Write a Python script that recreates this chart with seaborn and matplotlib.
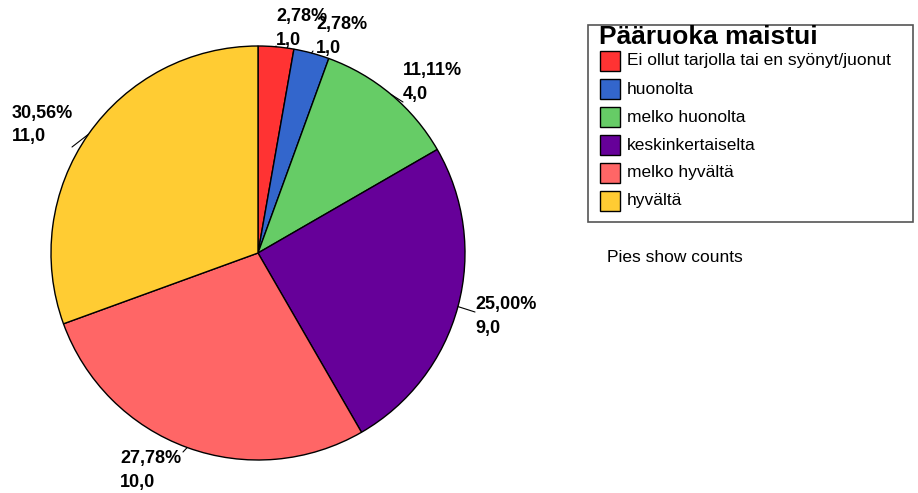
import math
import matplotlib
matplotlib.use("Agg")
import matplotlib.pyplot as plt
from matplotlib.patches import Rectangle
from matplotlib.lines import Line2D
import seaborn as sns

# Data
categories = [
    "Ei ollut tarjolla tai en syönyt/juonut",
    "huonolta",
    "melko huonolta",
    "keskinkertaiselta",
    "melko hyvältä",
    "hyvältä",
]
counts = [1, 1, 4, 9, 10, 11]
colors = ["#FF3333", "#3366CC", "#66CC66", "#660099", "#FF6666", "#FFCC33"]
title = "Pääruoka maistui"
note = "Pies show counts"

sns.set_theme(style="white")
plt.rcParams["font.family"] = ["Liberation Sans", "DejaVu Sans"]

W, H = 918, 493
fig = plt.figure(figsize=(W / 100, H / 100), dpi=100)


def fx(px):
    return px / W


def fy(py):
    return 1 - py / H


# Pie placed by its centre and radius in pixels
cx, cy, r = 258, 253, 207
ax = fig.add_axes([fx(cx - r), fy(cy + r), 2 * r / W, 2 * r / H])
ax.pie(counts, colors=colors, startangle=90, counterclock=False,
       wedgeprops=dict(edgecolor="black", linewidth=1.0))
ax.set_xlim(-1, 1)
ax.set_ylim(-1, 1)
ax.axis("off")

# Value labels (percentage and count) with short leader lines
total = sum(counts)
label_pos = [(276, 17), (316, 25), (403, 70), (475, 304), (120, 459), (12, 113)]
leader_end = [(276, 46), (313, 51), (403, 102), (475, 312), (183, 452), (72, 147)]
line_gap = 24
cum = 0
for val, (lx, ly), (ex, ey) in zip(counts, label_pos, leader_end):
    mid = 90 - (cum + val / 2) / total * 360
    cum += val
    sx = cx + r * math.cos(math.radians(mid))
    sy = cy - r * math.sin(math.radians(mid))
    fig.add_artist(Line2D([fx(sx), fx(ex)], [fy(sy), fy(ey)],
                          color="black", lw=0.8))
    pct = f"{val / total * 100:.2f}%".replace(".", ",")
    cnt = f"{val:.1f}".replace(".", ",")
    fig.text(fx(lx), fy(ly), pct, fontsize=13, fontweight="bold",
             ha="left", va="center", color="black")
    fig.text(fx(lx), fy(ly + line_gap), cnt, fontsize=13, fontweight="bold",
             ha="left", va="center", color="black")

# Legend box
fig.add_artist(Rectangle((fx(588), fy(222)), fx(913) - fx(588), fy(25) - fy(222),
                         transform=fig.transFigure, facecolor="white",
                         edgecolor="#555555", lw=1.2))
fig.text(fx(599), fy(37), title, fontsize=19, fontweight="bold",
         ha="left", va="center", color="black")
row0, row_gap = 61, 28
for i, (name, col) in enumerate(zip(categories, colors)):
    yc = row0 + i * row_gap
    fig.add_artist(Rectangle((fx(600), fy(yc + 10)), fx(20), 20 / H,
                             transform=fig.transFigure, facecolor=col,
                             edgecolor="black", lw=1.0))
    fig.text(fx(627), fy(yc), name, fontsize=12.5, ha="left", va="center",
             color="black")

fig.text(fx(607), fy(258), note, fontsize=12.5, ha="left", va="center",
         color="black")

fig.savefig("out.png", dpi=100)
